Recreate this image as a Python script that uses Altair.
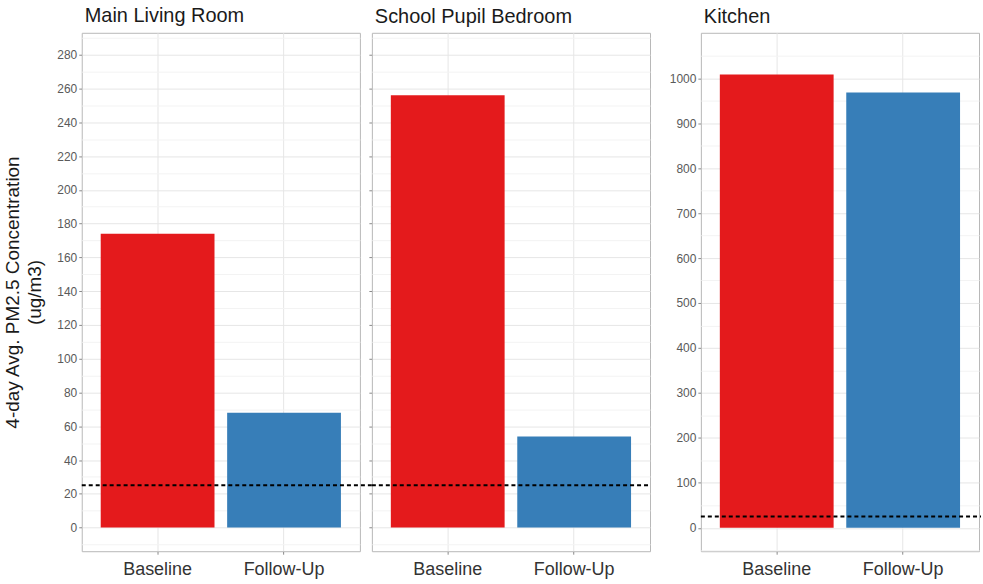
import altair as alt
import pandas as pd

rooms = ["Main Living Room", "School Pupil Bedroom", "Kitchen"]
visits = ["Baseline", "Follow-Up"]
baseline_values = [174, 256, 1008]
follow_up_values = [68, 54, 968]
guideline_value = 25
bar_colors = ["#E41A1C", "#377EB8"]
y_title = ["4-day Avg. PM2.5 Concentration", "(ug/m3)"]
shared_y_breaks = list(range(-10, 300, 10))
kitchen_y_breaks = list(range(-50, 1100, 50))

rows = []
for room, b, f in zip(rooms, baseline_values, follow_up_values):
    rows.append({"room": room, "visit": visits[0], "value": b})
    rows.append({"room": room, "visit": visits[1], "value": f})
df = pd.DataFrame(rows)
guide_df = pd.DataFrame({"value": [guideline_value]})

FONT = "Liberation Sans"
W, H = 279, 520
GAP_A, GAP_B = 12, 51


def make_panel(room, domain, values, major, show_labels, show_title, rule_extra):
    minor_test = f"datum.value % {major} !== 0"
    y_axis = alt.Axis(
        values=values,
        format="d",
        labels=show_labels,
        labelExpr=f"datum.value % {major} === 0 ? datum.label : ''",
        labelOverlap=False,
        labelFont=FONT,
        labelFontSize=12,
        labelColor="#5a5a5a",
        labelPadding=2,
        tickSize=3,
        tickColor="#8a8a8a",
        tickOpacity={"condition": {"test": minor_test, "value": 0}, "value": 1},
        gridColor={"condition": {"test": minor_test, "value": "#f3f3f3"}, "value": "#e6e6e6"},
        gridWidth=1,
        domain=False,
        title=y_title if show_title else None,
        titleFont=FONT,
        titleFontSize=19,
        titleFontWeight="normal",
        titleColor="#1a1a1a",
        titleLineHeight=22,
        titlePadding=12,
    )
    y_enc = alt.Y(
        "value:Q",
        scale=alt.Scale(domain=domain, nice=False, zero=False),
        axis=y_axis,
    )
    x_enc = alt.X(
        "visit:N",
        sort=visits,
        scale=alt.Scale(domain=visits, paddingInner=0.1, paddingOuter=0.15),
        axis=alt.Axis(
            title=None,
            labelAngle=0,
            labelFont=FONT,
            labelFontSize=18,
            labelColor="#333333",
            labelPadding=6,
            tickSize=3,
            tickColor="#8a8a8a",
            grid=True,
            gridColor="#e6e6e6",
            bandPosition=0.5,
            domain=False,
        ),
    )
    bars = (
        alt.Chart(df)
        .transform_filter(alt.datum.room == room)
        .mark_bar()
        .encode(
            x=x_enc,
            y=y_enc,
            color=alt.Color(
                "visit:N",
                scale=alt.Scale(domain=visits, range=bar_colors),
                legend=None,
            ),
        )
    )
    rule = (
        alt.Chart(guide_df)
        .mark_rule(color="black", strokeWidth=2, strokeDash=[4, 3])
        .encode(y=y_enc, x=alt.value(0), x2=alt.value(W + rule_extra))
    )
    return alt.layer(bars, rule).properties(
        width=W,
        height=H,
        title=alt.Title(
            room,
            anchor="start",
            frame="group",
            font=FONT,
            fontSize=20,
            fontWeight="normal",
            color="#1a1a1a",
            offset=6,
            dx=3,
        ),
    )


p1 = make_panel(rooms[0], [-14, 293], shared_y_breaks, 20, True, True, GAP_A)
p2 = make_panel(rooms[1], [-14, 293], shared_y_breaks, 20, False, False, 0)
p3 = make_panel(rooms[2], [-52, 1101], kitchen_y_breaks, 100, True, False, 2)

spacer = (
    alt.Chart(guide_df)
    .mark_point(opacity=0)
    .encode(x=alt.value(0), y=alt.value(0))
    .properties(width=GAP_B - 2 * GAP_A, height=H, view=alt.ViewBackground(stroke="transparent"))
)

chart = (
    alt.hconcat(p1, p2, spacer, p3, spacing=GAP_A, bounds="flush")
    .properties(padding={"left": 3, "top": 4, "right": 0, "bottom": 2}, background="white")
    .configure_view(stroke="#b8b8b8", strokeWidth=1)
)

chart.save("out.html", embed_options={"renderer": "svg", "actions": False})
